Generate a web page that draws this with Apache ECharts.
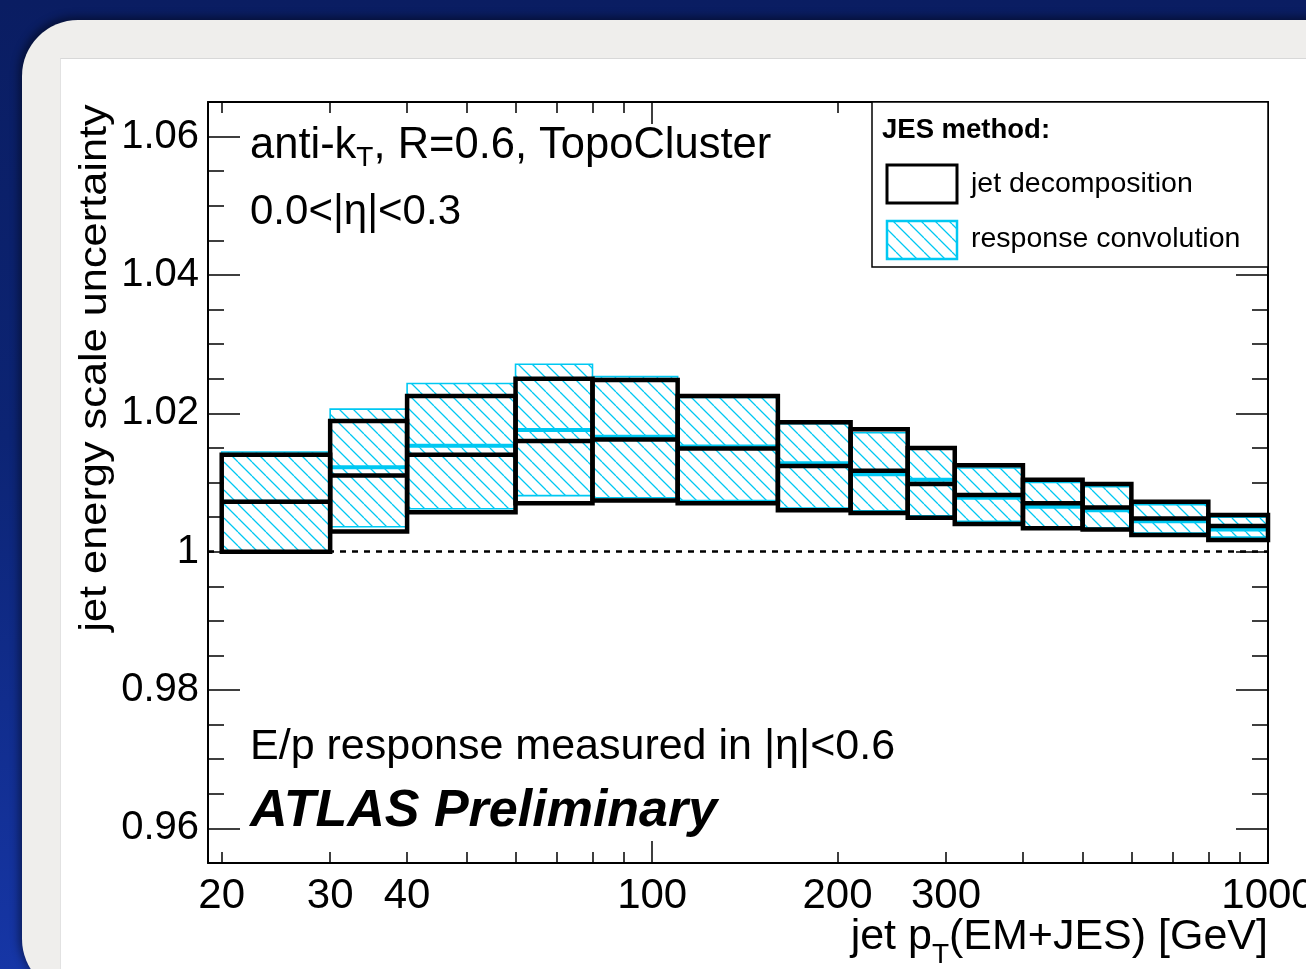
<!DOCTYPE html>
<html>
<head>
<meta charset="utf-8">
<script src="https://cdn.jsdelivr.net/npm/echarts@6/dist/echarts.min.js"></script>
<style>
  html, body { margin:0; padding:0; }
  body { width:1306px; height:969px; overflow:hidden; position:relative;
         background: linear-gradient(180deg, #0a1d62 0%, #0c2474 45%, #1636a6 100%); }
  #panel { position:absolute; left:22px; top:20px; width:1400px; height:975px; background:#efeeec;
           border-radius:56px 0 0 56px; box-shadow:-3px -3px 8px rgba(0,0,0,0.45); }
  #sheet { position:absolute; left:60px; top:58px; width:1300px; height:960px; background:#ffffff;
           border-top:1px solid #d8d8d8; border-left:1px solid #e2e2e2; }
  #chart { position:absolute; left:0; top:0; width:1306px; height:969px; }
</style>
</head>
<body>
<div id="panel"></div>
<div id="sheet"></div>
<div id="chart"></div>
<script>
// ---------------- data ----------------
const ptEdges = [20, 30, 40, 60, 80, 110, 160, 210, 260, 310, 400, 500, 600, 800, 1000];
// jet decomposition (black boxes)
const jdUp  = [1.0140, 1.0189, 1.0225, 1.0250, 1.0248, 1.0225, 1.0187, 1.0177, 1.0150, 1.0125, 1.0104, 1.0098, 1.0072, 1.0053];
const jdMid = [1.0072, 1.0110, 1.0140, 1.0160, 1.0162, 1.0149, 1.0124, 1.0117, 1.0098, 1.0082, 1.0070, 1.0064, 1.0048, 1.0037];
const jdLow = [1.0000, 1.0029, 1.0057, 1.0070, 1.0074, 1.0070, 1.0060, 1.0056, 1.0049, 1.0040, 1.0034, 1.0032, 1.0024, 1.0017];
// response convolution (cyan hatched boxes)
const rcUp  = [1.0144, 1.0206, 1.0243, 1.0271, 1.0253, 1.0223, 1.0185, 1.0172, 1.0149, 1.0121, 1.0100, 1.0094, 1.0068, 1.0050];
const rcMid = [1.0072, 1.0122, 1.0153, 1.0176, 1.0166, 1.0152, 1.0128, 1.0112, 1.0104, 1.0078, 1.0065, 1.0060, 1.0044, 1.0032];
const rcLow = [1.0000, 1.0036, 1.0062, 1.0081, 1.0078, 1.0074, 1.0063, 1.0059, 1.0052, 1.0044, 1.0036, 1.0034, 1.0027, 1.0021];
const refLine = 1;

const xLabelTicks = [20, 30, 40, 100, 200, 300, 1000];
const xMajorTicks = [100, 1000];
const xMinorTicks = [20, 30, 40, 50, 60, 70, 80, 90, 200, 300, 400, 500, 600, 700, 800, 900];
const yMajorTicks = [0.96, 0.98, 1, 1.02, 1.04, 1.06];
const yMinorTicks = [0.96, 0.965, 0.97, 0.975, 0.98, 0.985, 0.99, 0.995, 1, 1.005, 1.01, 1.015,
                     1.02, 1.025, 1.03, 1.035, 1.04, 1.045, 1.05, 1.055, 1.06];

// ---------------- styling ----------------
const FONT = '"Liberation Sans", Arial, Helvetica, sans-serif';
const CYAN = '#00c8f2';
function makeHatch() {
  const s = 14, c = document.createElement('canvas');
  c.width = s; c.height = s;
  const g = c.getContext('2d');
  g.strokeStyle = CYAN; g.lineWidth = 1.3;
  g.beginPath();
  [-s, 0, s].forEach(o => { g.moveTo(o, 0); g.lineTo(o + s, s); });
  g.stroke();
  return c;
}
const hatch = { image: makeHatch(), repeat: 'repeat' };

function binData(up, mid, low) {
  return ptEdges.slice(0, -1).map((lo, i) => [lo, ptEdges[i + 1], up[i], mid[i], low[i]]);
}

function renderRC(params, api) {
  const a = api.coord([api.value(0), api.value(2)]);
  const b = api.coord([api.value(1), api.value(4)]);
  const m0 = api.coord([api.value(0), api.value(3)]);
  const m1 = api.coord([api.value(1), api.value(3)]);
  return { type: 'group', children: [
    { type: 'rect', shape: { x: a[0], y: a[1], width: b[0] - a[0], height: b[1] - a[1] },
      style: { fill: hatch, stroke: CYAN, lineWidth: 1.6 } },
    { type: 'line', shape: { x1: m0[0], y1: m0[1], x2: m1[0], y2: m1[1] },
      style: { stroke: CYAN, lineWidth: 4 } }
  ]};
}
function renderJD(params, api) {
  const a = api.coord([api.value(0), api.value(2)]);
  const b = api.coord([api.value(1), api.value(4)]);
  const m0 = api.coord([api.value(0), api.value(3)]);
  const m1 = api.coord([api.value(1), api.value(3)]);
  return { type: 'group', children: [
    { type: 'rect', shape: { x: a[0], y: a[1], width: b[0] - a[0], height: b[1] - a[1] },
      style: { fill: 'transparent', stroke: '#000', lineWidth: 4.5 } },
    { type: 'line', shape: { x1: m0[0], y1: m0[1], x2: m1[0], y2: m1[1] },
      style: { stroke: '#000', lineWidth: 4.5 } }
  ]};
}

const X_MIN = 19, X_MAX = 1000, Y_MIN = 0.955, Y_MAX = 1.065;
function xAxisDef(pos, ticks, len, withLine, withLabels) {
  return {
    type: 'log', logBase: 10, min: X_MIN, max: X_MAX, position: pos,
    axisLine: { show: withLine, lineStyle: { color: '#000', width: 2 } },
    axisTick: { show: true, inside: true, length: len, customValues: ticks, lineStyle: { color: '#000', width: 1.5 } },
    axisLabel: withLabels ? { show: true, customValues: xLabelTicks, formatter: v => String(Math.round(v)),
      color: '#000', fontSize: 42, fontFamily: FONT, margin: 12 } : { show: false },
    splitLine: { show: false }, minorTick: { show: false }
  };
}
function yAxisDef(pos, ticks, len, withLine, withLabels) {
  return {
    type: 'value', min: Y_MIN, max: Y_MAX, position: pos,
    axisLine: { show: withLine, lineStyle: { color: '#000', width: 2 } },
    axisTick: { show: true, inside: true, length: len, customValues: ticks, lineStyle: { color: '#000', width: 1.5 } },
    axisLabel: withLabels ? { show: true, customValues: yMajorTicks, formatter: v => String(+(+v).toFixed(2)),
      color: '#000', fontSize: 40, fontFamily: FONT, margin: 9 } : { show: false },
    splitLine: { show: false }, minorTick: { show: false }
  };
}

const chart = echarts.init(document.getElementById('chart'), null, { renderer: 'canvas' });
chart.setOption({
  animation: false,
  backgroundColor: 'transparent',
  grid: { left: 208, right: 38, top: 102, bottom: 106, containLabel: false, outerBoundsMode: 'none' },
  xAxis: [
    xAxisDef('bottom', xMinorTicks, 11, true, true),
    xAxisDef('bottom', xMajorTicks, 22, false, false),
    xAxisDef('top', xMinorTicks, 11, true, false),
    xAxisDef('top', xMajorTicks, 22, false, false)
  ],
  yAxis: [
    yAxisDef('left', yMajorTicks, 32, true, true),
    yAxisDef('left', yMinorTicks, 16, false, false),
    yAxisDef('right', yMajorTicks, 32, true, false),
    yAxisDef('right', yMinorTicks, 16, false, false)
  ],
  series: [
    { type: 'custom', name: 'response convolution', xAxisIndex: 0, yAxisIndex: 0,
      data: binData(rcUp, rcMid, rcLow), encode: { x: [0, 1], y: [2, 3, 4] },
      renderItem: renderRC, z: 2, silent: true },
    { type: 'custom', name: 'jet decomposition', xAxisIndex: 0, yAxisIndex: 0,
      data: binData(jdUp, jdMid, jdLow), encode: { x: [0, 1], y: [2, 3, 4] },
      renderItem: renderJD, z: 3, silent: true,
      markLine: { silent: true, symbol: ['none', 'none'], label: { show: false },
        lineStyle: { color: '#000', type: [6, 6], width: 2.5 },
        data: [{ yAxis: refLine }] } }
  ],
  graphic: [
    { type: 'text', x: 250, y: 120, z: 10,
      style: { text: 'anti-k{s|T}, R=0.6, TopoCluster', fill: '#000', font: '43.5px ' + FONT,
        rich: { s: { fontSize: 28, fontFamily: FONT, fill: '#000', lineHeight: 14, verticalAlign: 'bottom' } },
        lineHeight: 52 } },
    { type: 'text', x: 250, y: 212, z: 10,
      style: { text: '0.0<|η|<0.3', fill: '#000', font: '42px ' + FONT, verticalAlign: 'middle' } },
    { type: 'text', x: 250, y: 747, z: 10,
      style: { text: 'E/p response measured in |η|<0.6', fill: '#000', font: '43px ' + FONT, verticalAlign: 'middle' } },
    { type: 'text', x: 250, y: 812, z: 10,
      style: { text: 'ATLAS Preliminary', fill: '#000', font: 'italic bold 52px ' + FONT, verticalAlign: 'middle' } },
    { type: 'text', x: 96, y: 368, rotation: Math.PI / 2, scaleX: 1.14, z: 10,
      style: { text: 'jet energy scale uncertainty', fill: '#000', font: '38px ' + FONT,
        align: 'center', verticalAlign: 'middle' } },
    { type: 'text', x: 1268, y: 905, z: 10,
      style: { text: 'jet p{s|T}(EM+JES) [GeV]', fill: '#000', font: '43px ' + FONT, align: 'right',
        rich: { s: { fontSize: 28, fontFamily: FONT, fill: '#000', lineHeight: 14, verticalAlign: 'bottom' } },
        lineHeight: 64 } },
    // legend
    { type: 'rect', z: 10, shape: { x: 872, y: 102, width: 396, height: 165 },
      style: { fill: '#fff', stroke: '#000', lineWidth: 1.5 } },
    { type: 'text', x: 882, y: 130, z: 11,
      style: { text: 'JES method:', fill: '#000', font: 'bold 27.5px ' + FONT, verticalAlign: 'middle' } },
    { type: 'rect', z: 11, shape: { x: 887, y: 165, width: 70, height: 38 },
      style: { fill: 'transparent', stroke: '#000', lineWidth: 3 } },
    { type: 'text', x: 971, y: 184, z: 11,
      style: { text: 'jet decomposition', fill: '#000', font: '28.5px ' + FONT, verticalAlign: 'middle' } },
    { type: 'rect', z: 11, shape: { x: 887, y: 221, width: 70, height: 38 },
      style: { fill: hatch, stroke: CYAN, lineWidth: 2.5 } },
    { type: 'text', x: 971, y: 239, z: 11,
      style: { text: 'response convolution', fill: '#000', font: '28.5px ' + FONT, verticalAlign: 'middle' } }
  ]
});
</script>
</body>
</html>
